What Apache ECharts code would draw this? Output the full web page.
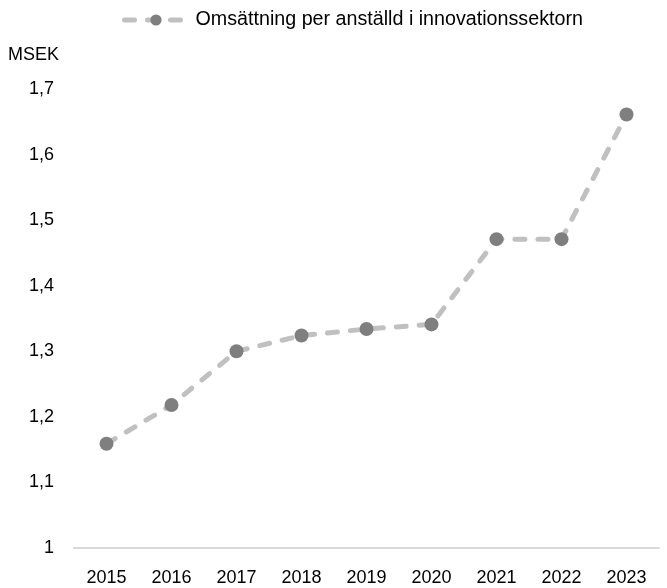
<!DOCTYPE html>
<html><head><meta charset="utf-8">
<script src="https://cdn.jsdelivr.net/npm/echarts@6/dist/echarts.min.js"></script>
<style>html,body{margin:0;padding:0;background:#fff}#c{width:667px;height:588px}</style>
</head><body><div id="c"></div>
<script>
const categories = ['2015','2016','2017','2018','2019','2020','2021','2022','2023'];
const values = [1.159, 1.218, 1.300, 1.324, 1.334, 1.341, 1.471, 1.471, 1.661];
const seriesName = 'Omsättning per anställd i innovationssektorn';
const unitLabel = 'MSEK';
const FONT = '"Liberation Sans", Arial, sans-serif';
const chart = echarts.init(document.getElementById('c'));
chart.setOption({
  animation: false,
  textStyle: {fontFamily: FONT},
  legend: {
    top: 5, left: 117,
    itemWidth: 63, itemHeight: 14, itemGap: 10,
    lineStyle: {width: 5, color: '#c0c0c0', type: [10, 13], cap: 'round'},
    itemStyle: {color: '#7f7f7f'},
    textStyle: {fontFamily: FONT, fontSize: 19.7, color: '#000', padding: [0, 0, 0, 3]},
    data: [{name: seriesName}]
  },
  graphic: [{type: 'text', left: 8, top: 46, style: {text: unitLabel, font: '18px ' + FONT, fill: '#000'}}],
  grid: {left: 74, right: 8, top: 89, bottom: 40, containLabel: false},
  xAxis: {
    type: 'category', data: categories, boundaryGap: true,
    axisLine: {show: true, lineStyle: {color: '#d9d9d9', width: 2}},
    axisTick: {show: false},
    axisLabel: {color: '#000', fontSize: 18, fontFamily: FONT, margin: 21}
  },
  yAxis: {
    type: 'value', min: 1, max: 1.7, interval: 0.1,
    splitLine: {show: false}, axisLine: {show: false}, axisTick: {show: false},
    axisLabel: {color: '#000', fontSize: 18, fontFamily: FONT, margin: 20,
      formatter: v => String(Math.round(v*10)/10).replace('.', ',')}
  },
  series: [{
    name: seriesName, type: 'line', data: values,
    symbol: 'circle', symbolSize: 14,
    itemStyle: {color: '#7f7f7f'},
    lineStyle: {color: '#c0c0c0', width: 5, type: [10, 13], cap: 'round'}
  }]
});
</script></body></html>
